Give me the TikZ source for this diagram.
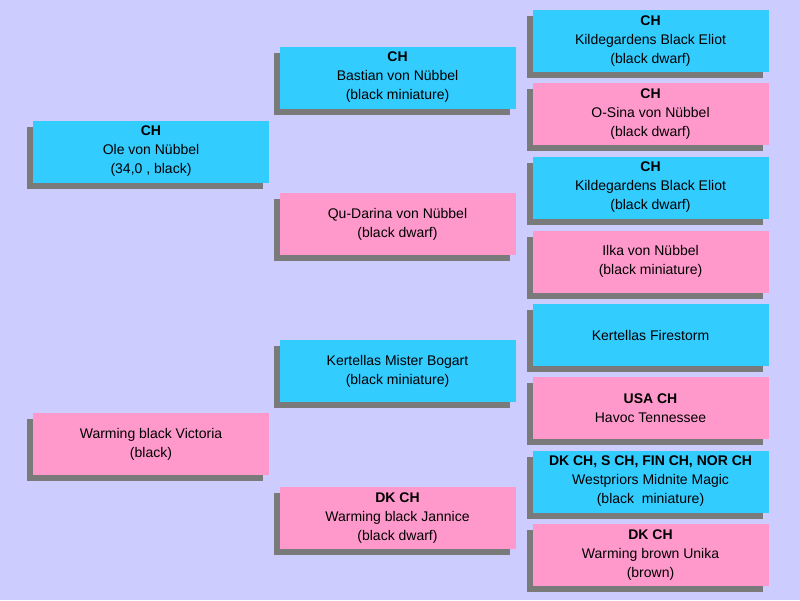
\documentclass[tikz,border=0pt]{standalone}
\usepackage{fontspec}
\setmainfont{Liberation Sans}
\usetikzlibrary{shadows}
\definecolor{bgblue}{HTML}{CCCCFF}
\definecolor{dogcyan}{HTML}{33CCFF}
\definecolor{dogpink}{HTML}{FF99CC}
\definecolor{shadowgray}{HTML}{7A7A7A}
\tikzset{
  dog/.style={minimum width=236pt, minimum height=62pt, inner sep=0pt, align=center,
    font=\fontsize{14}{19}\selectfont,
    drop shadow={shadow xshift=-6pt, shadow yshift=-6pt, fill=shadowgray, opacity=1}},
  male/.style={dog, fill=dogcyan},
  female/.style={dog, fill=dogpink}
}
\begin{document}
\begin{tikzpicture}[x=1pt, y=-1pt]
    \fill[bgblue] (0,0) rectangle (800,600);
    \useasboundingbox (0,0) rectangle (800,600);

    % parents
    \node[male] (ole) at (151, 151.5) {\textbf{CH}\\Ole von Nübbel\\(34,0 , black)};
    \node[female] (victoria) at (151, 444) {Warming black Victoria\\(black)};

    % grandparents
    \node[male] (bastian) at (397.5, 77.5) {\textbf{CH}\\Bastian von Nübbel\\(black miniature)};
    \node[female] (qudarina) at (397.5, 224) {Qu-Darina von Nübbel\\(black dwarf)};
    \node[male] (bogart) at (397.5, 371) {Kertellas Mister Bogart\\(black miniature)};
    \node[female] (jannice) at (397.5, 518) {\textbf{DK CH}\\Warming black Jannice\\(black dwarf)};

    % great-grandparents
    \node[male] (eliota) at (650.5, 41) {\textbf{CH}\\Kildegardens Black Eliot\\(black dwarf)};
    \node[female] (osina) at (650.5, 114) {\textbf{CH}\\O-Sina von Nübbel\\(black dwarf)};
    \node[male] (eliotb) at (650.5, 187.5) {\textbf{CH}\\Kildegardens Black Eliot\\(black dwarf)};
    \node[female] (ilka) at (650.5, 261.5) {Ilka von Nübbel\\(black miniature)};
    \node[male] (firestorm) at (650.5, 335) {Kertellas Firestorm};
    \node[female] (havoc) at (650.5, 408) {\textbf{USA CH}\\Havoc Tennessee};
    \node[male] (magic) at (650.5, 481.5) {\textbf{DK CH, S CH, FIN CH, NOR CH}\\Westpriors Midnite Magic\\(black\ \ miniature)};
    \node[female] (unika) at (650.5, 555) {\textbf{DK CH}\\Warming brown Unika\\(brown)};
\end{tikzpicture}
\end{document}
